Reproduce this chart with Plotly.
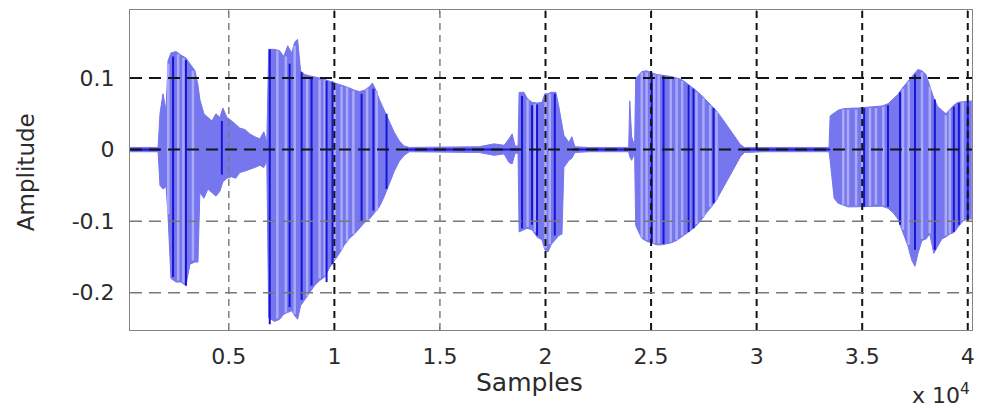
import plotly.graph_objects as go

# ---- speech waveform: amplitude envelope (sample index, upper, lower) ----
env_x = [330, 1650, 1740, 1880, 2030, 2120, 2260, 2500, 2730, 2970,
         3160, 3400, 3540, 3630, 3820, 4010, 4200, 4390, 4580, 4720,
         4910, 5140, 5330, 5520, 5760, 5990, 6230, 6470, 6660, 6800,
         6890, 7170, 7410, 7600, 7790, 7980, 8120, 8260, 8400, 8590,
         8830, 9060, 9300, 9540, 9770, 10010, 10240, 10480, 10720, 10950,
         11190, 11430, 11660, 11800, 11940, 12130, 12370, 12610, 12840, 13080,
         13310, 13550, 14500, 15440, 16150, 16860, 17560, 18040, 18270, 18420,
         18560, 18700, 18750, 18980, 19120, 19360, 19600, 19830, 19970, 20120,
         20260, 20490, 20630, 20780, 20870, 21110, 21250, 21390, 22050, 22760,
         23470, 23940, 23990, 24080, 24220, 24270, 24410, 24560, 24790, 25030,
         25260, 25500, 25740, 25970, 26210, 26440, 26680, 26920, 27150, 27390,
         27630, 27860, 28100, 28330, 28570, 28810, 29040, 29230, 29420, 30320,
         31260, 32210, 32920, 33430, 33480, 33670, 33860, 34100, 34330, 34570,
         34800, 35090, 35370, 35650, 35940, 36220, 36460, 36690, 36930, 37170,
         37350, 37500, 37640, 37830, 38020, 38200, 38390, 38580, 38770, 38960,
         39150, 39340, 39530, 39760, 40000, 40190]

env_hi = [0.003, 0.003, 0.050, 0.078, 0.055, 0.124, 0.135, 0.137, 0.132, 0.128,
          0.120, 0.110, 0.090, 0.070, 0.050, 0.045, 0.040, 0.050, 0.045, 0.058,
          0.045, 0.040, 0.035, 0.030, 0.028, 0.022, 0.018, 0.015, 0.025, 0.010,
          0.140, 0.140, 0.138, 0.130, 0.145, 0.135, 0.150, 0.154, 0.110, 0.105,
          0.103, 0.101, 0.100, 0.098, 0.095, 0.093, 0.091, 0.089, 0.086, 0.083,
          0.081, 0.083, 0.088, 0.093, 0.085, 0.070, 0.055, 0.038, 0.024, 0.012,
          0.005, 0.003, 0.003, 0.003, 0.004, 0.004, 0.008, 0.006, 0.015, 0.022,
          0.005, 0.005, 0.080, 0.080, 0.072, 0.066, 0.065, 0.066, 0.078, 0.078,
          0.080, 0.080, 0.060, 0.035, 0.020, 0.010, 0.018, 0.004, 0.003, 0.003,
          0.003, 0.003, 0.068, 0.018, 0.005, 0.099, 0.104, 0.109, 0.110, 0.107,
          0.105, 0.104, 0.103, 0.102, 0.100, 0.098, 0.093, 0.088, 0.082, 0.076,
          0.069, 0.061, 0.054, 0.045, 0.035, 0.025, 0.015, 0.007, 0.003, 0.003,
          0.003, 0.003, 0.003, 0.003, 0.047, 0.051, 0.055, 0.057, 0.058, 0.058,
          0.058, 0.059, 0.059, 0.060, 0.061, 0.064, 0.070, 0.077, 0.087, 0.096,
          0.103, 0.107, 0.112, 0.110, 0.105, 0.090, 0.072, 0.060, 0.055, 0.050,
          0.056, 0.062, 0.066, 0.067, 0.068, 0.068]

env_lo = [-0.003, -0.003, -0.050, -0.055, -0.052, -0.092, -0.180, -0.185, -0.185, -0.190,
          -0.160, -0.157, -0.157, -0.060, -0.068, -0.055, -0.060, -0.065, -0.058, -0.045,
          -0.040, -0.038, -0.040, -0.032, -0.030, -0.028, -0.025, -0.022, -0.025, -0.015,
          -0.235, -0.240, -0.237, -0.230, -0.228, -0.225, -0.232, -0.237, -0.218, -0.210,
          -0.200, -0.190, -0.183, -0.178, -0.165, -0.155, -0.145, -0.133, -0.124, -0.118,
          -0.110, -0.102, -0.097, -0.092, -0.088, -0.080, -0.065, -0.048, -0.030, -0.016,
          -0.008, -0.003, -0.003, -0.003, -0.004, -0.004, -0.008, -0.006, -0.018, -0.020,
          -0.005, -0.005, -0.115, -0.112, -0.110, -0.112, -0.122, -0.126, -0.140, -0.143,
          -0.133, -0.125, -0.120, -0.118, -0.025, -0.015, -0.012, -0.004, -0.003, -0.003,
          -0.003, -0.003, -0.010, -0.015, -0.005, -0.106, -0.115, -0.124, -0.128, -0.131,
          -0.133, -0.133, -0.132, -0.130, -0.127, -0.122, -0.118, -0.112, -0.106, -0.098,
          -0.088, -0.080, -0.070, -0.058, -0.045, -0.032, -0.020, -0.010, -0.004, -0.003,
          -0.003, -0.003, -0.003, -0.003, -0.015, -0.068, -0.075, -0.078, -0.080, -0.080,
          -0.080, -0.080, -0.080, -0.079, -0.079, -0.082, -0.088, -0.097, -0.115, -0.135,
          -0.155, -0.163, -0.145, -0.127, -0.125, -0.118, -0.145, -0.135, -0.125, -0.122,
          -0.118, -0.116, -0.108, -0.100, -0.097, -0.097]

# strong individual oscillation periods (sample, peak, trough)
dark_x = [2360, 2970, 4670, 6940, 7880, 8450, 8920, 9630, 9910, 11290,
          11850, 12470, 18890, 19360, 19600, 20440, 25030, 25590, 26780, 27010,
          27960, 35090, 36220, 36790, 37500, 38440, 39340, 39580, 40000]
dark_hi = [0.130, 0.125, 0.040, 0.140, 0.120, 0.108, 0.100, 0.096, 0.095, 0.078,
           0.085, 0.050, 0.075, 0.062, 0.063, 0.078, 0.106, 0.103, 0.090, 0.085,
           0.058, 0.058, 0.062, 0.080, 0.105, 0.070, 0.060, 0.065, 0.067]
dark_lo = [-0.178, -0.190, -0.035, -0.244, -0.220, -0.210, -0.190, -0.185, -0.160, -0.100,
           -0.085, -0.055, -0.110, -0.105, -0.120, -0.120, -0.130, -0.132, -0.115, -0.110,
           -0.075, -0.080, -0.080, -0.105, -0.140, -0.140, -0.115, -0.105, -0.097]

# weaker periods drawn as pale stripes inside the envelope
pale_x = [2130, 2600, 2850, 3300, 7300, 7700, 8120, 8710, 9300, 9540,
          10010, 10340, 10600, 10900, 11550, 12000, 19150, 19500, 20000, 20200,
          24560, 24790, 25150, 25360, 25930, 26210, 26470, 26800, 27150, 27480,
          27800, 28100, 34100, 34330, 34710, 35000, 35370, 35650, 36000, 36930,
          37200, 37830, 38200, 38960, 39150, 39760]
pale_hi = [0.120, 0.133, 0.128, 0.110, 0.138, 0.130, 0.145, 0.100, 0.098, 0.097,
           0.092, 0.088, 0.087, 0.082, 0.085, 0.082, 0.070, 0.064, 0.076, 0.078,
           0.108, 0.108, 0.105, 0.104, 0.101, 0.099, 0.096, 0.090, 0.080, 0.072,
           0.062, 0.053, 0.056, 0.056, 0.056, 0.058, 0.058, 0.058, 0.060, 0.085,
           0.095, 0.108, 0.088, 0.048, 0.055, 0.066]
pale_lo = [-0.090, -0.183, -0.186, -0.155, -0.236, -0.228, -0.230, -0.205, -0.180, -0.176,
           -0.154, -0.140, -0.128, -0.118, -0.099, -0.086, -0.108, -0.115, -0.138, -0.132,
           -0.123, -0.126, -0.131, -0.131, -0.129, -0.126, -0.120, -0.114, -0.104, -0.094,
           -0.080, -0.070, -0.077, -0.078, -0.078, -0.079, -0.079, -0.077, -0.078, -0.112,
           -0.133, -0.125, -0.117, -0.120, -0.117, -0.099]

# low-level background noise between words (start, end)
quiet_spans = [(330, 1740), (13400, 18750), (21300, 24270), (29300, 33480)]

# axes
x_range = [320, 40200]
y_range = [-0.252, 0.195]
x_ticks = [5000, 10000, 15000, 20000, 25000, 30000, 35000, 40000]
x_tick_text = ["0.5", "1", "1.5", "2", "2.5", "3", "3.5", "4"]
y_ticks = [-0.2, -0.1, 0, 0.1]
y_tick_text = ["-0.2", "-0.1", "0", "0.1"]

FILL = "rgb(118,118,238)"
PALE = "rgb(170,170,248)"
DARK = "rgb(22,22,212)"
FONT = "DejaVu Sans"
TEXT = "#2b2b2b"


def segments(xs, his, los):
    px, py = [], []
    for x, h, l in zip(xs, his, los):
        px += [x, x, None]
        py += [l, h, None]
    return px, py


fig = go.Figure()

# envelope fill
fig.add_trace(go.Scatter(x=env_x, y=env_hi, mode="lines",
                         line=dict(color=FILL, width=1), hoverinfo="skip"))
fig.add_trace(go.Scatter(x=env_x, y=env_lo, mode="lines", fill="tonexty",
                         fillcolor=FILL, line=dict(color=FILL, width=1),
                         hoverinfo="skip"))

sx, sy = segments(pale_x, pale_hi, pale_lo)
fig.add_trace(go.Scatter(x=sx, y=sy, mode="lines",
                         line=dict(color=PALE, width=2.5), hoverinfo="skip"))

sx, sy = segments(dark_x, dark_hi, dark_lo)
fig.add_trace(go.Scatter(x=sx, y=sy, mode="lines",
                         line=dict(color=DARK, width=2), hoverinfo="skip"))

qx, qy = [], []
for a, b in quiet_spans:
    qx += [a, b, None]
    qy += [0, 0, None]
fig.add_trace(go.Scatter(x=qx, y=qy, mode="lines",
                         line=dict(color=DARK, width=2), hoverinfo="skip"))

# dashed grid drawn over the waveform
strong_x = {10000, 20000, 25000, 30000, 35000, 40000}
strong_y = {0, 0.1}
shapes = []
for v in x_ticks:
    strong = v in strong_x
    shapes.append(dict(type="line", xref="x", yref="paper", x0=v, x1=v, y0=0, y1=1,
                       layer="above",
                       line=dict(color="rgb(20,20,20)" if strong else "rgb(120,120,120)",
                                 width=2 if strong else 1.4, dash="7px,5px")))
for v in y_ticks:
    strong = v in strong_y
    shapes.append(dict(type="line", xref="paper", yref="y", x0=0, x1=1, y0=v, y1=v,
                       layer="above",
                       line=dict(color="rgb(20,20,20)" if strong else "rgb(120,120,120)",
                                 width=2 if strong else 1.4, dash="12px,7px")))

fig.update_layout(
    width=984, height=409,
    margin=dict(l=130, r=10, t=9, b=79),
    paper_bgcolor="white", plot_bgcolor="white",
    showlegend=False,
    shapes=shapes,
    font=dict(family=FONT, color=TEXT, size=22),
    annotations=[
        dict(text="Samples", xref="paper", yref="paper", x=0.475, y=-0.165,
             xanchor="center", yanchor="middle", showarrow=False,
             font=dict(size=25, family=FONT, color=TEXT)),
        dict(text="Amplitude", xref="paper", yref="paper", x=-0.124, y=0.492,
             xanchor="center", yanchor="middle", showarrow=False, textangle=-90,
             font=dict(size=23, family=FONT, color=TEXT)),
        dict(text="x 10<sup>4</sup>", xref="paper", yref="paper", x=1.0, y=-0.20,
             xanchor="right", yanchor="middle", showarrow=False,
             font=dict(size=22, family=FONT, color=TEXT)),
    ],
)
fig.update_xaxes(range=x_range, tickvals=x_ticks, ticktext=x_tick_text,
                 showgrid=False, zeroline=False, showline=True, mirror="ticks",
                 linecolor="rgb(130,130,130)", linewidth=1,
                 ticks="inside", ticklen=4, tickcolor="rgb(130,130,130)",
                 ticklabelstandoff=7)
fig.update_yaxes(range=y_range, tickvals=y_ticks, ticktext=y_tick_text,
                 showgrid=False, zeroline=False, showline=True, mirror="ticks",
                 linecolor="rgb(130,130,130)", linewidth=1,
                 ticks="inside", ticklen=4, tickcolor="rgb(130,130,130)",
                 ticklabelstandoff=10)

fig.write_html("out.html", config={"displayModeBar": False})
